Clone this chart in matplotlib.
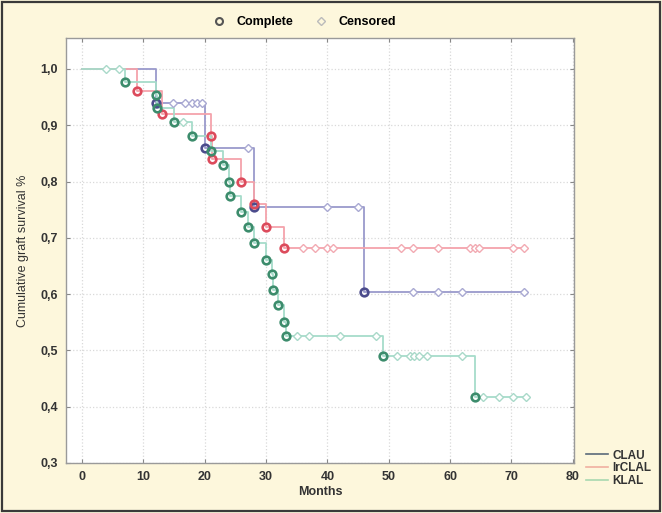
import matplotlib
matplotlib.use('Agg')
from matplotlib import pyplot as plt
from matplotlib.lines import Line2D
from matplotlib.patches import Rectangle
import numpy as np

plt.rcParams['font.family'] = ['Liberation Sans', 'DejaVu Sans']

# Kaplan-Meier steps: event times and survival after each event
clau_t = [12, 20, 28, 46]
clau_s = [0.94, 0.86, 0.755, 0.604]
clau_cens_t = [14.8, 16.8, 17.9, 18.7, 19.5, 27, 40, 45, 54, 58, 62, 72]
clau_cens_s = [0.94, 0.94, 0.94, 0.94, 0.94, 0.86, 0.755, 0.755, 0.604, 0.604, 0.604, 0.604]

ir_t = [9, 13, 21, 21.2, 26, 28, 30, 33]
ir_s = [0.96, 0.92, 0.88, 0.84, 0.80, 0.76, 0.72, 0.682]
ir_cens_t = [36, 38, 40, 41, 52, 54, 58, 63.2, 64, 64.8, 70.2, 72]
ir_cens_s = [0.682] * 12

klal_t = [7, 12, 12.2, 15, 18, 21, 23, 24, 24.2, 26, 27, 28, 30, 31, 31.2, 32, 33, 33.2, 49, 64]
klal_s = [0.976, 0.953, 0.93, 0.905, 0.88, 0.855, 0.83, 0.80, 0.775, 0.745, 0.72, 0.69,
          0.66, 0.635, 0.607, 0.58, 0.55, 0.525, 0.49, 0.418]
klal_cens_t = [4, 6, 16.5, 35, 37, 42, 48, 51.3, 53.4, 54.2, 55, 56.3, 62, 65.3, 68, 70.2, 72.4]
klal_cens_s = [1.0, 1.0, 0.905, 0.525, 0.525, 0.525, 0.525, 0.49, 0.49, 0.49, 0.49, 0.49,
               0.49, 0.418, 0.418, 0.418, 0.418]

groups = ['CLAU', 'IrCLAL', 'KLAL']
x_ticks = [0, 10, 20, 30, 40, 50, 60, 70, 80]
y_ticks = [0.3, 0.4, 0.5, 0.6, 0.7, 0.8, 0.9, 1.0]

series = [
    (clau_t, clau_s, clau_cens_t, clau_cens_s, '#9a9acc', '#4c4c8c', '#a9a9d2'),
    (ir_t, ir_s, ir_cens_t, ir_cens_s, '#f4a3ab', '#dc4b5c', '#f2aab2'),
    (klal_t, klal_s, klal_cens_t, klal_cens_s, '#a6dcca', '#3c8c6c', '#a9d9c9'),
]

fig = plt.figure(figsize=(6.62, 5.13), dpi=100)
fig.patch.set_facecolor('#fdf7dc')
fig.patches.append(Rectangle((0.003, 0.004), 0.994, 0.992, transform=fig.transFigure,
                             fill=False, edgecolor='#3a3a3a', linewidth=1.6))

ax = fig.add_axes([0.0997, 0.0975, 0.7673, 0.8285])
ax.set_facecolor('white')

for t, s, ct, cs, lc, mc, cc in series:
    end = max(max(t), max(ct))
    xs = [0] + list(t) + [end]
    ys = [1.0] + list(s) + [s[-1]]
    ax.plot(xs, ys, drawstyle='steps-post', color=lc, lw=1.3, zorder=2)
    ax.plot(t, s, 'o', ms=5.5, mfc='none', mec=mc, mew=1.9, zorder=4)
    ax.plot(ct, cs, 'D', ms=4.3, mfc='white', mec=cc, mew=1.0, zorder=3)

ax.set_xlim(-2.6, 80.2)
ax.set_ylim(0.3, 1.055)
ax.set_xticks(x_ticks)
ax.set_yticks(y_ticks)
ax.set_yticklabels([('%.1f' % v).replace('.', ',') for v in y_ticks])
ax.tick_params(direction='in', length=3, color='#888888', labelsize=9,
               labelcolor='#333333', top=True, right=True, pad=6)
for lab in ax.get_xticklabels() + ax.get_yticklabels():
    lab.set_fontweight('bold')
ax.grid(True, color='#d9d9d9', linestyle=':', linewidth=0.9)
for sp in ax.spines.values():
    sp.set_color('#9a9a9a')
    sp.set_linewidth(1.0)

ax.set_xlabel('Months', fontsize=9, fontweight='bold', color='#333333', labelpad=2)
ax.set_ylabel('Cumulative graft survival %', fontsize=9, color='#333333', labelpad=8)

# top legend
top_handles = [
    Line2D([], [], ls='none', marker='o', ms=5, mfc='none', mec='#555555', mew=1.5),
    Line2D([], [], ls='none', marker='D', ms=4, mfc='none', mec='#bbbbbb', mew=1.0),
]
fig.legend(top_handles, ['Complete', 'Censored'], loc='center', bbox_to_anchor=(0.455, 0.957),
           ncol=2, frameon=False, handletextpad=0.4, columnspacing=1.2,
           prop={'weight': 'bold', 'size': 9})

# group legend bottom right
grp_handles = [Line2D([], [], color=c, lw=1.2) for c in ['#5a6a7a', '#f0b0a0', '#a8d8b0']]
leg = fig.legend(grp_handles, groups, loc='lower left', bbox_to_anchor=(0.872, 0.035),
                 frameon=False, handlelength=1.9, handletextpad=0.4, labelspacing=0.05,
                 borderpad=0.2, prop={'weight': 'bold', 'size': 8.5})
for txt in leg.get_texts():
    txt.set_color('#333333')

plt.savefig('out.png', dpi=100, facecolor=fig.get_facecolor())
